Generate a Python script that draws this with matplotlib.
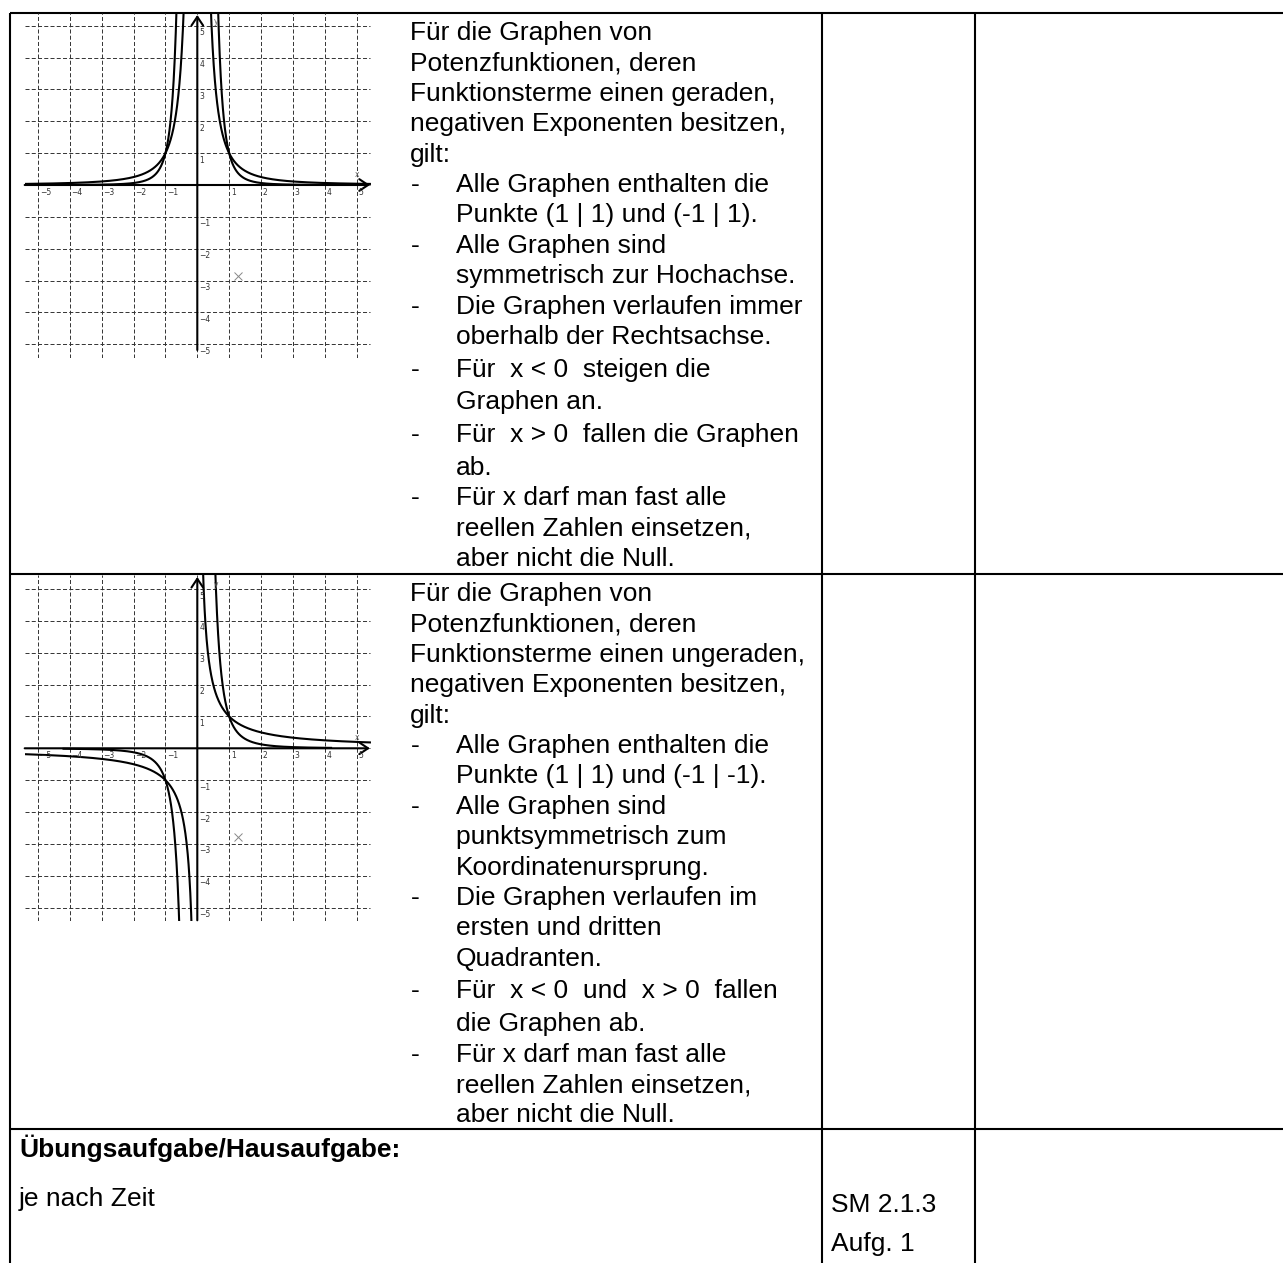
import numpy as np
import matplotlib.pyplot as plt

plt.rcParams['lines.scale_dashes'] = False

# Power functions shown in the two graphs (exponent of x)
even_exponents = [-2, -4]
odd_exponents = [-1, -3]
# x range over which each curve is drawn
even_domains = [(-5.42, 5.42), (-4.0, 4.0)]
odd_domains = [(-5.42, 5.42), (-4.2, 4.2)]

tick_values = [-5, -4, -3, -2, -1, 1, 2, 3, 4, 5]
tick_labels = ["−5", "−4", "−3", "−2", "−1", "1", "2", "3", "4", "5"]

# small gray cross that sits in both graphs
cross_even = (1.27, -2.86)
cross_odd = (1.29, -2.78)

# text of the cells (0 = paragraph, 1 = bullet, 2 = bullet continuation)
lines_even = [
    (0, "Für die Graphen von"),
    (0, "Potenzfunktionen, deren"),
    (0, "Funktionsterme einen geraden,"),
    (0, "negativen Exponenten besitzen,"),
    (0, "gilt:"),
    (1, "Alle Graphen enthalten die"),
    (2, "Punkte (1 | 1) und (-1 | 1)."),
    (1, "Alle Graphen sind"),
    (2, "symmetrisch zur Hochachse."),
    (1, "Die Graphen verlaufen immer"),
    (2, "oberhalb der Rechtsachse."),
    (1, "Für  x < 0  steigen die"),
    (2, "Graphen an."),
    (1, "Für  x > 0  fallen die Graphen"),
    (2, "ab."),
    (1, "Für x darf man fast alle"),
    (2, "reellen Zahlen einsetzen,"),
    (2, "aber nicht die Null."),
]
lines_odd = [
    (0, "Für die Graphen von"),
    (0, "Potenzfunktionen, deren"),
    (0, "Funktionsterme einen ungeraden,"),
    (0, "negativen Exponenten besitzen,"),
    (0, "gilt:"),
    (1, "Alle Graphen enthalten die"),
    (2, "Punkte (1 | 1) und (-1 | -1)."),
    (1, "Alle Graphen sind"),
    (2, "punktsymmetrisch zum"),
    (2, "Koordinatenursprung."),
    (1, "Die Graphen verlaufen im"),
    (2, "ersten und dritten"),
    (2, "Quadranten."),
    (1, "Für  x < 0  und  x > 0  fallen"),
    (2, "die Graphen ab."),
    (1, "Für x darf man fast alle"),
    (2, "reellen Zahlen einsetzen,"),
    (2, "aber nicht die Null."),
]

W, H = 1283, 1263
fig = plt.figure(figsize=(W / 100, H / 100), dpi=100)
fig.patch.set_facecolor("white")

# background axes in pixel coordinates for the table
bg = fig.add_axes([0, 0, 1, 1])
bg.set_xlim(0, W)
bg.set_ylim(H, 0)
bg.axis("off")
bg.patch.set_alpha(0)

lw_table = 1.5
for y in [13, 574, 1129]:
    bg.plot([10, W], [y, y], color="black", lw=lw_table, solid_capstyle="butt")
for x in [10, 822, 975]:
    bg.plot([x, x], [13, H], color="black", lw=lw_table, solid_capstyle="butt")

FONT = "Liberation Sans"
FS = 19


def write_cell(lines, first_baseline):
    y = first_baseline
    prev_math = False
    for i, (kind, txt) in enumerate(lines):
        is_math = "  x " in txt
        if i > 0:
            y += 32.7 if (is_math or prev_math) else 30.4
        if kind == 0:
            bg.text(410, y, txt, fontsize=FS, family=FONT, va="baseline")
        else:
            if kind == 1:
                bg.text(411, y, "-", fontsize=FS, family=FONT, va="baseline")
            bg.text(456, y, txt, fontsize=FS, family=FONT, va="baseline")
        prev_math = is_math


write_cell(lines_even, 40)
write_cell(lines_odd, 601)

bg.text(19, 1157.5, "Übungsaufgabe/Hausaufgabe:", fontsize=FS, family=FONT,
        weight="bold", va="baseline")
bg.text(19, 1206, "je nach Zeit", fontsize=FS, family=FONT, va="baseline")
bg.text(831, 1212, "SM 2.1.3", fontsize=FS, family=FONT, va="baseline")
bg.text(831, 1251, "Aufg. 1", fontsize=FS, family=FONT, va="baseline")

UNIT = 31.85
X_MIN, X_MAX = -5.42, 5.45
Y_MIN = -5.43


def draw_graph(ox, oy, row_top, exponents, domains, cross, yaxis_bottom):
    y_top = (oy - row_top) / UNIT
    left = ox + X_MIN * UNIT
    right = ox + X_MAX * UNIT
    top = row_top
    bottom = oy - Y_MIN * UNIT
    ax = fig.add_axes([left / W, 1 - bottom / H, (right - left) / W, (bottom - top) / H])
    ax.set_xlim(X_MIN, X_MAX)
    ax.set_ylim(Y_MIN, y_top)
    ax.axis("off")
    ax.patch.set_alpha(0)

    dash = (0, (2.9, 1.6))
    for v in range(-5, 6):
        ax.plot([v, v], [Y_MIN, y_top], ls=dash, lw=0.7, color="#333")
        ax.plot([X_MIN, 5.42], [v, v], ls=dash, lw=0.7, color="#333")

    # axes with arrows
    ax.annotate("", xy=(5.42, 0), xytext=(X_MIN, 0),
                arrowprops=dict(arrowstyle="->,head_length=0.45,head_width=0.3",
                                lw=1.5, color="black", shrinkA=0, shrinkB=0,
                                mutation_scale=14))
    ax.annotate("", xy=(0, y_top - 0.06), xytext=(0, yaxis_bottom),
                arrowprops=dict(arrowstyle="->,head_length=0.45,head_width=0.3",
                                lw=1.5, color="black", shrinkA=0, shrinkB=0,
                                mutation_scale=14))

    for v, lab in zip(tick_values, tick_labels):
        ax.text(v + 0.05, -0.1, lab, fontsize=5.5, family="DejaVu Sans",
                color="#333", ha="left", va="top")
        ax.text(0.07, v - 0.08, lab, fontsize=5.5, family="DejaVu Sans",
                color="#333", ha="left", va="top")
    ax.text(5.03, 0.2, "x", fontsize=5.5, family="DejaVu Sans", color="#666",
            ha="center", va="bottom")
    ax.text(0.58, 5.0, "y", fontsize=5.5, family="DejaVu Sans", color="#666",
            ha="center", va="bottom")

    ax.plot([cross[0]], [cross[1]], marker="x", ms=6, mew=0.7, color="#888")

    for n, (a, b) in zip(exponents, domains):
        xl = np.linspace(a, -0.05, 600)
        xr = np.linspace(0.05, b, 600)
        ax.plot(xl, xl ** n, color="black", lw=1.5)
        ax.plot(xr, xr ** n, color="black", lw=1.5)


draw_graph(197.3, 185, 13, even_exponents, even_domains, cross_even, -5.18)
draw_graph(197.3, 748.3, 575, odd_exponents, odd_domains, cross_odd, -5.4)

fig.savefig("out.png", dpi=100)
